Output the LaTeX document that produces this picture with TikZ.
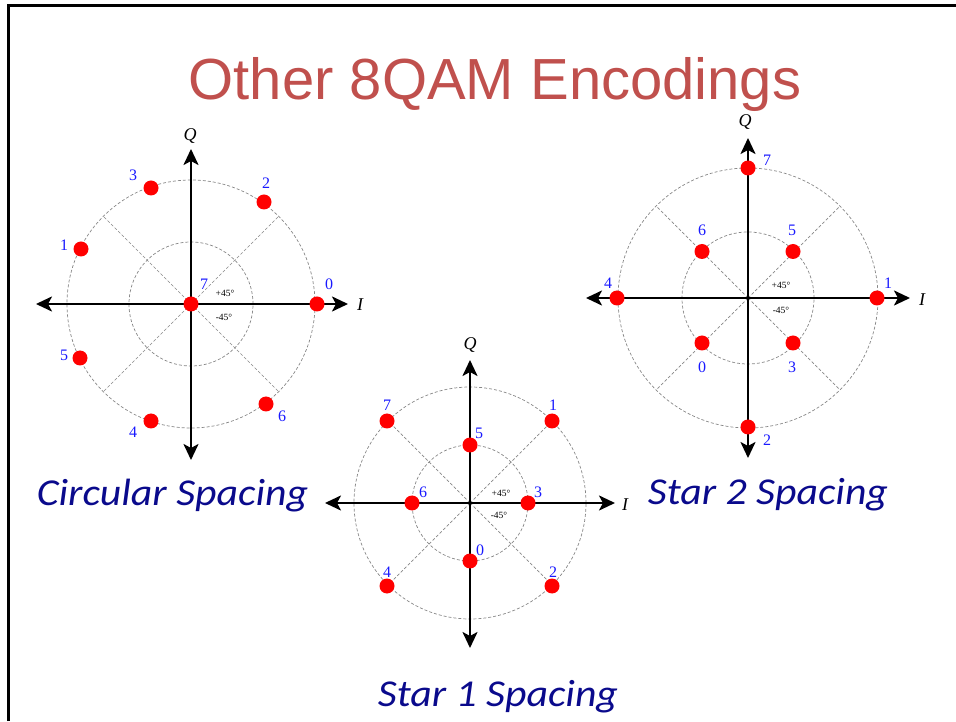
\documentclass[tikz,border=0pt]{standalone}
\usepackage{fontspec}
\setmainfont{Liberation Serif}
\newfontfamily\titlefont{Liberation Sans}
\newfontfamily\capfont[FakeStretch=1.1]{Carlito}
\usetikzlibrary{arrows.meta}
\definecolor{titlered}{RGB}{192,80,77}
\definecolor{capblue}{RGB}{10,10,140}
\definecolor{numblue}{RGB}{25,25,255}
\definecolor{gridgray}{RGB}{135,135,135}
\begin{document}
\begin{tikzpicture}[x=1pt,y=1pt,
  gridline/.style={gridgray,line width=0.7pt,dash pattern=on 3pt off 2pt},
  axisarrow/.style={line width=2.4pt,{Stealth[length=16pt,width=15pt,inset=4pt]}-{Stealth[length=16pt,width=15pt,inset=4pt]}},
  dot/.style={circle,fill=red,inner sep=0pt,minimum size=15pt},
  numlbl/.style={numblue,inner sep=0pt,font=\fontsize{16}{18}\selectfont},
  axlbl/.style={inner sep=0pt,font=\fontsize{18}{20}\selectfont\itshape},
  anglbl/.style={inner sep=0pt,font=\fontsize{9.5}{11}\selectfont},
  captxt/.style={capblue,inner sep=0pt,anchor=base,font=\capfont\itshape\fontsize{38}{42}\selectfont},
  frameline/.style={black,line width=3pt}]
\useasboundingbox (0,0) rectangle (956,721);
% frame
\coordinate (fTL) at (8.5,715.5);
\coordinate (fTR) at (956,715.5);
\coordinate (fBL) at (8.5,0);
\draw[frameline] (fBL) -- (fTL) -- (fTR);
% title
\node[titlered,inner sep=0pt,anchor=base,font=\titlefont\fontsize{58}{60}\selectfont] (title) at (495,621) {Other 8QAM Encodings};

% ---------- Circular spacing ----------
\begin{scope}[shift={(191,417)}]
  \coordinate (ao) at (0,0);
  \draw[gridline] (ao) circle[radius=124];
  \draw[gridline] (ao) circle[radius=62];
  \foreach \a in {45,135,225,315} \draw[gridline] (ao) -- (\a:124);
  \coordinate (aL) at (-155,0);
  \coordinate (aR) at (157,0);
  \coordinate (aT) at (0,155);
  \coordinate (aB) at (0,-156);
  \draw[axisarrow] (aL) -- (aR);
  \draw[axisarrow] (aB) -- (aT);
  \node[axlbl] (aQ) at (-1,168) {Q};
  \node[axlbl] (aI) at (169,-1) {I};
  \node[anglbl] (ap) at (34,11) {+45°};
  \node[anglbl] (am) at (33,-13) {-45°};
  \node[dot] (a0) at (126,0) {};
  \node[dot] (a2) at (73,102) {};
  \node[dot] (a3) at (-40,116) {};
  \node[dot] (a1) at (-110,55) {};
  \node[dot] (a5) at (-111,-54) {};
  \node[dot] (a4) at (-40,-117) {};
  \node[dot] (a6) at (75,-100) {};
  \node[dot] (a7) at (0,0) {};
  \node[numlbl] (la0) at (138,20) {0};
  \node[numlbl] (la2) at (75,121) {2};
  \node[numlbl] (la3) at (-58,129) {3};
  \node[numlbl] (la1) at (-127,59) {1};
  \node[numlbl] (la5) at (-127,-51) {5};
  \node[numlbl] (la4) at (-58,-128) {4};
  \node[numlbl] (la6) at (91,-112) {6};
  \node[numlbl] (la7) at (13,20) {7};
\end{scope}

% ---------- Star 2 spacing ----------
\begin{scope}[shift={(748,423)}]
  \coordinate (bo) at (0,0);
  \draw[gridline] (bo) circle[radius=130];
  \draw[gridline] (bo) circle[radius=66];
  \foreach \a in {45,135,225,315} \draw[gridline] (bo) -- (\a:130);
  \coordinate (bL) at (-162,0);
  \coordinate (bR) at (162,0);
  \coordinate (bT) at (0,160);
  \coordinate (bB) at (0,-160);
  \draw[axisarrow] (bL) -- (bR);
  \draw[axisarrow] (bB) -- (bT);
  \node[axlbl] (bQ) at (-3,176) {Q};
  \node[axlbl] (bI) at (174,-2) {I};
  \node[anglbl] (bp) at (33,13) {+45°};
  \node[anglbl] (bm) at (33,-12) {-45°};
  \node[dot] (b7) at (0,130) {};
  \node[dot] (b2) at (0,-129) {};
  \node[dot] (b4) at (-131,0) {};
  \node[dot] (b1) at (129,0) {};
  \node[dot] (b6) at (-46,46.5) {};
  \node[dot] (b5) at (45,46.5) {};
  \node[dot] (b0) at (-46,-45) {};
  \node[dot] (b3) at (45,-45) {};
  \node[numlbl] (lb7) at (19,138) {7};
  \node[numlbl] (lb2) at (19,-142) {2};
  \node[numlbl] (lb4) at (-140,15) {4};
  \node[numlbl] (lb1) at (140,15) {1};
  \node[numlbl] (lb6) at (-46,68) {6};
  \node[numlbl] (lb5) at (44,68) {5};
  \node[numlbl] (lb0) at (-46,-69) {0};
  \node[numlbl] (lb3) at (44,-69) {3};
\end{scope}

% ---------- Star 1 spacing ----------
\begin{scope}[shift={(470,218)}]
  \coordinate (co) at (0,0);
  \draw[gridline] (co) circle[radius=116];
  \draw[gridline] (co) circle[radius=58];
  \foreach \a in {45,135,225,315} \draw[gridline] (co) -- (\a:116);
  \coordinate (cL) at (-145,0);
  \coordinate (cR) at (145,0);
  \coordinate (cT) at (0,143);
  \coordinate (cB) at (0,-145);
  \draw[axisarrow] (cL) -- (cR);
  \draw[axisarrow] (cB) -- (cT);
  \node[axlbl] (cQ) at (0,158) {Q};
  \node[axlbl] (cI) at (155,-2) {I};
  \node[anglbl] (cp) at (31,10) {+45°};
  \node[anglbl] (cm) at (29,-12) {-45°};
  \node[dot] (c1) at (82,82) {};
  \node[dot] (c7) at (-83,82) {};
  \node[dot] (c4) at (-83,-83) {};
  \node[dot] (c2) at (82,-83) {};
  \node[dot] (c5) at (0,58) {};
  \node[dot] (c0) at (0,-58) {};
  \node[dot] (c6) at (-58,0) {};
  \node[dot] (c3) at (58,0) {};
  \node[numlbl] (lc7) at (-83,98) {7};
  \node[numlbl] (lc1) at (83,98) {1};
  \node[numlbl] (lc4) at (-83,-69) {4};
  \node[numlbl] (lc2) at (83,-69) {2};
  \node[numlbl] (lc5) at (9,70) {5};
  \node[numlbl] (lc0) at (10,-47) {0};
  \node[numlbl] (lc6) at (-47,11) {6};
  \node[numlbl] (lc3) at (68,11) {3};
\end{scope}

% captions
\node[captxt] (capA) at (172.5,215) {Circular Spacing};
\node[captxt] (capB) at (768,216) {Star 2 Spacing};
\node[captxt] (capC) at (498,15) {Star 1 Spacing};
\end{tikzpicture}
\end{document}
